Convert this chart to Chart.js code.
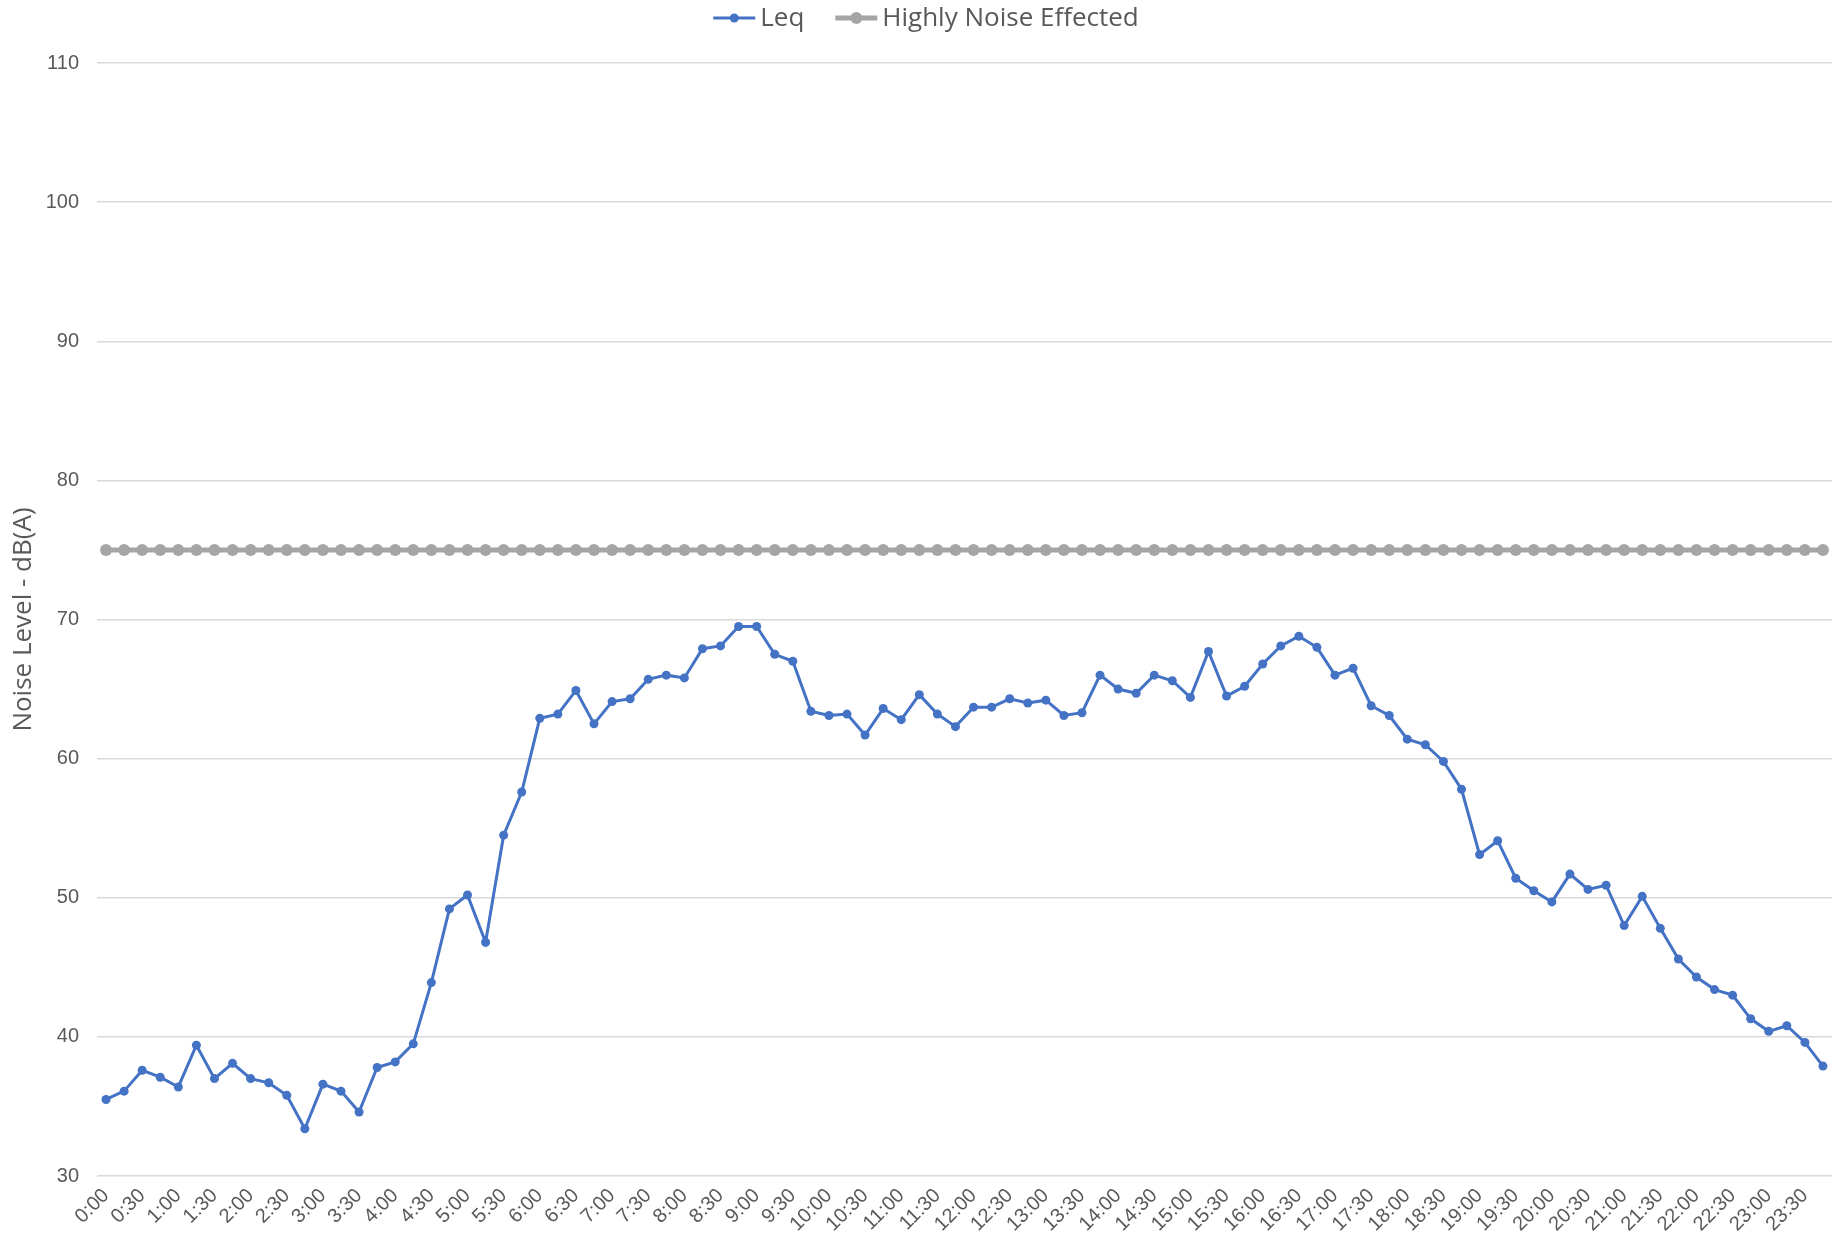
<!DOCTYPE html>
<html>
<head>
<meta charset="utf-8">
<script src="https://cdn.jsdelivr.net/npm/chart.js@4.4.0/dist/chart.umd.min.js"></script>
<style>
html,body{margin:0;padding:0;background:#ffffff;}
#wrap{width:1832px;height:1237px;position:relative;}
</style>
</head>
<body>
<div id="wrap"><canvas id="c"></canvas></div>
<script>
const timeLabels = [
"0:00","0:15","0:30","0:45","1:00","1:15","1:30","1:45","2:00","2:15","2:30","2:45",
"3:00","3:15","3:30","3:45","4:00","4:15","4:30","4:45","5:00","5:15","5:30","5:45",
"6:00","6:15","6:30","6:45","7:00","7:15","7:30","7:45","8:00","8:15","8:30","8:45",
"9:00","9:15","9:30","9:45","10:00","10:15","10:30","10:45","11:00","11:15","11:30","11:45",
"12:00","12:15","12:30","12:45","13:00","13:15","13:30","13:45","14:00","14:15","14:30","14:45",
"15:00","15:15","15:30","15:45","16:00","16:15","16:30","16:45","17:00","17:15","17:30","17:45",
"18:00","18:15","18:30","18:45","19:00","19:15","19:30","19:45","20:00","20:15","20:30","20:45",
"21:00","21:15","21:30","21:45","22:00","22:15","22:30","22:45","23:00","23:15","23:30","23:45"
];

const leqValues = [
35.5, 36.1, 37.6, 37.1, 36.4, 39.4, 37.0, 38.1, 37.0, 36.7,
35.8, 33.4, 36.6, 36.1, 34.6, 37.8, 38.2, 39.5, 43.9, 49.2,
50.2, 46.8, 54.5, 57.6, 62.9, 63.2, 64.9, 62.5, 64.1, 64.3,
65.7, 66.0, 65.8, 67.9, 68.1, 69.5, 69.5, 67.5, 67.0, 63.4,
63.1, 63.2, 61.7, 63.6, 62.8, 64.6, 63.2, 62.3, 63.7, 63.7,
64.3, 64.0, 64.2, 63.1, 63.3, 66.0, 65.0, 64.7, 66.0, 65.6,
64.4, 67.7, 64.5, 65.2, 66.8, 68.1, 68.8, 68.0, 66.0, 66.5,
63.8, 63.1, 61.4, 61.0, 59.8, 57.8, 53.1, 54.1, 51.4, 50.5,
49.7, 51.7, 50.6, 50.9, 48.0, 50.1, 47.8, 45.6, 44.3, 43.4,
43.0, 41.3, 40.4, 40.8, 39.6, 37.9
];

const thresholdValues = [
75,75,75,75,75,75,75,75,75,75,75,75,75,75,75,75,
75,75,75,75,75,75,75,75,75,75,75,75,75,75,75,75,
75,75,75,75,75,75,75,75,75,75,75,75,75,75,75,75,
75,75,75,75,75,75,75,75,75,75,75,75,75,75,75,75,
75,75,75,75,75,75,75,75,75,75,75,75,75,75,75,75,
75,75,75,75,75,75,75,75,75,75,75,75,75,75,75,75
];

const seriesNames = ["Leq", "Highly Noise Effected"];
const yTicks = [30, 40, 50, 60, 70, 80, 90, 100, 110];
const yTitle = "Noise Level - dB(A)";

const FONT = '"Liberation Sans", Arial, sans-serif';
const FONT2 = '"Open Sans", "Liberation Sans", Arial, sans-serif';
const TEXT = '#595959';

const legendPlugin = {
  id: 'excelLegend',
  afterDraw(chart) {
    const ctx = chart.ctx;
    ctx.save();
    ctx.font = '26px ' + FONT2;
    ctx.textBaseline = 'middle';
    const y = 18;
    const iconW = 42, gap1 = 5, gap2 = 31;
    const items = chart.data.datasets.map(ds => ({ds, w: iconW + gap1 + ctx.measureText(ds.label).width}));
    const total = items.reduce((a, it) => a + it.w, 0) + gap2 * (items.length - 1);
    let x = 926 - total / 2;
    items.forEach(({ds, w}) => {
      ctx.strokeStyle = ds.borderColor;
      ctx.lineWidth = ds.borderWidth;
      ctx.beginPath();
      ctx.moveTo(x, y);
      ctx.lineTo(x + iconW, y);
      ctx.stroke();
      ctx.fillStyle = ds.pointBackgroundColor;
      ctx.beginPath();
      ctx.arc(x + iconW / 2, y, ds.pointRadius, 0, Math.PI * 2);
      ctx.fill();
      ctx.fillStyle = TEXT;
      ctx.textAlign = 'left';
      ctx.fillText(ds.label, x + iconW + gap1, y + 1);
      x += w + gap2;
    });
    ctx.restore();
  }
};

new Chart(document.getElementById('c'), {
  type: 'line',
  data: {
    labels: timeLabels,
    datasets: [
      {
        label: seriesNames[0],
        data: leqValues,
        borderColor: '#4472C4',
        backgroundColor: '#4472C4',
        pointBackgroundColor: '#4472C4',
        pointBorderColor: '#4472C4',
        borderWidth: 3,
        pointRadius: 4.5,
        pointBorderWidth: 0,
        tension: 0,
        fill: false,
        clip: false
      },
      {
        label: seriesNames[1],
        data: thresholdValues,
        borderColor: '#A5A5A5',
        backgroundColor: '#A5A5A5',
        pointBackgroundColor: '#A5A5A5',
        pointBorderColor: '#A5A5A5',
        borderWidth: 5,
        pointRadius: 6,
        pointBorderWidth: 0,
        tension: 0,
        fill: false,
        clip: false
      }
    ]
  },
  options: {
    responsive: true,
    maintainAspectRatio: false,
    animation: false,
    layout: { autoPadding: false, padding: { top: 63, right: 0, left: 0, bottom: 0 } },
    plugins: { legend: { display: false }, tooltip: { enabled: false } },
    scales: {
      x: {
        offset: true,
        grid: { display: false, drawTicks: false },
        border: { display: false },
        ticks: {
          autoSkip: false,
          maxRotation: 45,
          minRotation: 45,
          padding: 8,
          color: TEXT,
          font: { family: FONT, size: 20 },
          callback: function (v, i) { return i % 2 === 0 ? this.getLabelForValue(v) : ''; }
        },
        afterFit: s => { s.height = 61; s.paddingLeft = 0; s.paddingRight = 0; }
      },
      y: {
        min: yTicks[0],
        max: yTicks[yTicks.length - 1],
        afterBuildTicks: s => { s.ticks = yTicks.map(v => ({value: v})); },
        ticks: { color: TEXT, font: { family: FONT, size: 20 }, padding: 18 },
        grid: { color: '#D9D9D9', lineWidth: 1.5, drawTicks: false },
        border: { display: false },
        title: { display: true, text: yTitle, color: TEXT, font: { family: FONT2, size: 26 }, padding: { top: 8, bottom: 0 } },
        afterFit: s => { s.width = 97; }
      }
    }
  },
  plugins: [legendPlugin]
});
</script>
</body>
</html>
